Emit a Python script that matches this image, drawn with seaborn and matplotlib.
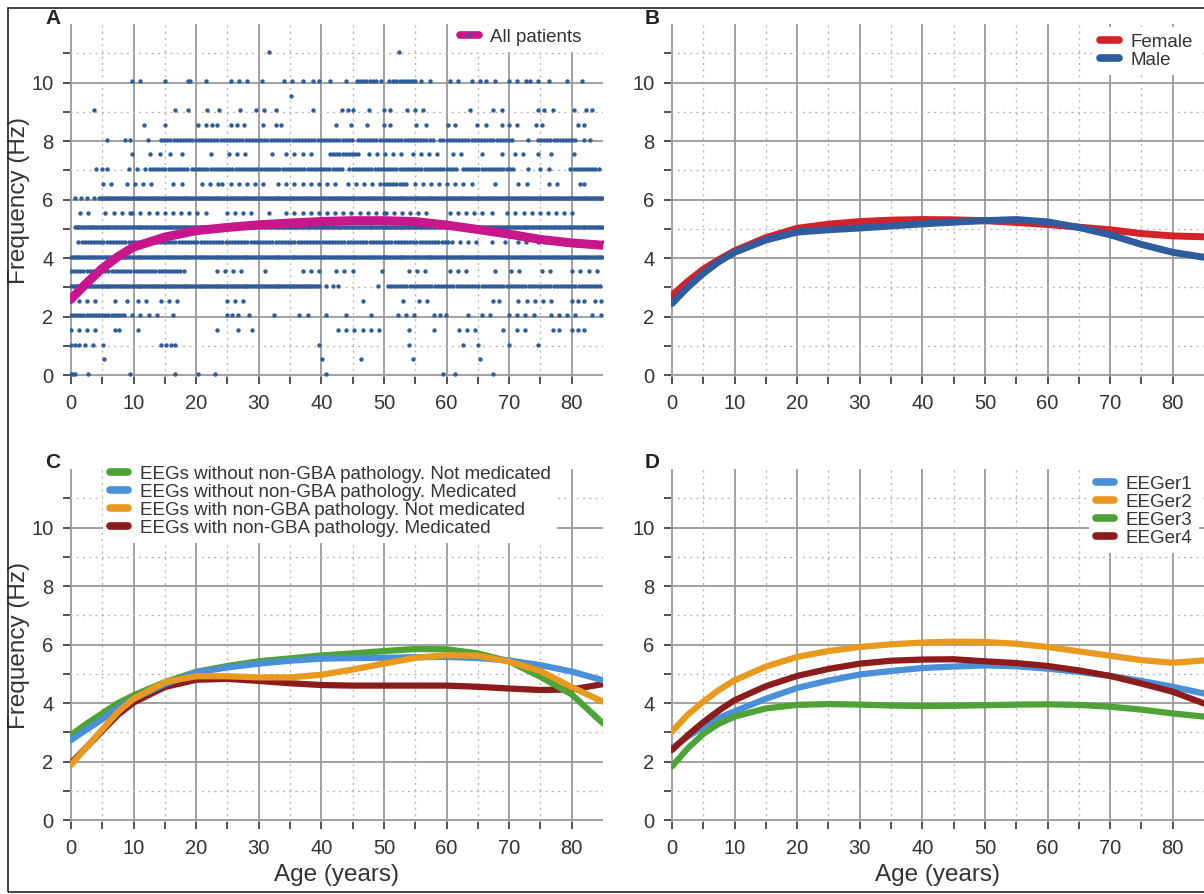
import numpy as np
import pandas as pd
import matplotlib
matplotlib.use("Agg")
import matplotlib.pyplot as plt
import seaborn as sns
from matplotlib.lines import Line2D
from matplotlib.patches import Rectangle
from matplotlib.ticker import FixedLocator

sns.set_theme(style="white")
plt.rcParams["font.family"] = ["Liberation Sans", "DejaVu Sans"]

# ---------------- data ----------------
# Panel A scatter: frequency levels and the ages at which points are seen
# "a-b" = densely packed run, "a:b" = closely dotted run, "a~b" = loosely dotted run,
# single numbers = single points
scatter_levels = [11.05, 10.05, 9.55, 9.05, 8.55, 8.05, 7.55, 7.05, 6.55, 6.05, 5.55,
                  5.05, 4.55, 4.05, 3.55, 3.05, 2.55, 2.05, 1.55, 1.05, 0.55, 0.05]
scatter_ages = [
    "31.6 52.4",
    "9.8~11.7 15 18.7 19 21.5 25.5~28.2 30.6 34~35.3 37 38.7 39.6 41.4 43.9 45.7:49 49.5~51 51.5:55 56~58 60.5~62.3 64 65.4 66.3 67.8 70~71.5 72.7 73.4 74.6 76.4 79.2 81.6",
    "35.1",
    "3.7 16.6 18.7 21.8 23.6 27 29.5~31.6 32.8~34 38.7 43.3 44.2 45.1 47.6 50 51 53.7~56.8 63.8 67.5~69.7 74.6 75.5 77 80.4 82.3 83.2",
    "11.7 15 20.3 21.5 22.5 23.3 25.5 26.5 27.6 30.7 32.8 33.5 42.4 44.8 47.3 50 51 55.2 56.8 60.2 61.4 64.8 66.3 68.8 70 71.2 74.3 75.2 81 82",
    "5.8 8.6 9.5 12.3 14.4:45 45.8:58 59:70.9 73 74.6:80.7 82 83",
    "9.8 12.6 14.2 15.8 17.8 22.4 25.2~28.5 32.2 34.4~38.7 41.4:46 47.6~53.1 54.6~59.2 61~63.2 65.7 68.8 70.9~73.4 74.6 76.7 80.4",
    "4 5 5.8 9.2~12 12.6:18.7 19.3:43.3 44.5:61.7 62.6:70.9 73 74.9 76.4 79.8:84.7",
    "5.2 6.4 8.9~13.2 16.3 17.8 20.9~23.6 24.2~31 33.1~42.7 44.2~49.4 50:53.7 54.9~64.8 67.8 71.5~74 76.4~78.6 81.3 82",
    "0.6 1.6 2.5 3.7 4.5-85",
    "1.5~3.7 5.5~9.5 9.8~21.8 24.9~29.2 31.6 34.4~50 50.3~56.8 60.5~66 67.2 69.7~80.1",
    "0.6-85",
    "1.2:60.2 60.8~64.8 67.2 69.4 71.5 72.7 74.6~85",
    "0-85",
    "0:18.1 23.3~27.6 31 37.1~40.8 42.4~45.1 49.7 54~57.7 60.5~63.5 67.8 70.3~72.7 75.2~77 80.1~85",
    "0-39.6 40.8 41.8 42.7 49.1 50.6:85",
    "0~4.9 7 8.9 10.7~12.6 14.4~17.2 24.9~27.9 46.7 53.1 55.6~58 67.5 68.4 71.5~77.7 80.1 81 82 83.8 84.7",
    "0:8.9 9.8~13.8 16.3 24.9 25.8 26.7 28.5 32.5 36.5~39 40.8 43.9 47.9 52.2~55.9 58 59 59.9 63.5 65.7~67.8 70~74.6 76.7~80.7 83.2 84.7",
    "0~4 7 7.7 10.7 23.3 26.7 28.9 42.7~49.4 54 58 62~64.8 69 71.2~73.7 77 78 80.1 81 82",
    "0 0.6 1.3 2.3 3.5 5.2 14.4 15.2 16 16.6 39.6 54 62.6 65.1 70 74.6",
    "5.3 40.1 46.3 54.6 65.4",
    "0 0.3 0.6 2.8 9.4 16.6 20.3 23 40.8 59.5 61.4 67.5",
]

ages = [0, 2.5, 5, 7.5, 10, 15, 20, 25, 30, 35, 40, 45, 50, 55, 60, 65, 70, 75, 80, 85]

all_patients = [2.6, 3.15, 3.65, 4.05, 4.38, 4.72, 4.94, 5.05, 5.14, 5.2, 5.25, 5.28, 5.28, 5.25, 5.13, 4.98, 4.82, 4.64, 4.52, 4.44]

female = [2.73, 3.2, 3.62, 3.95, 4.25, 4.7, 5.02, 5.16, 5.25, 5.3, 5.32, 5.31, 5.28, 5.22, 5.15, 5.06, 4.97, 4.84, 4.76, 4.73]
male = [2.45, 3.0, 3.48, 3.88, 4.2, 4.62, 4.89, 4.97, 5.03, 5.1, 5.17, 5.23, 5.28, 5.32, 5.24, 5.05, 4.8, 4.47, 4.2, 4.03]

c_labels = ["EEGs without non-GBA pathology. Not medicated",
            "EEGs without non-GBA pathology. Medicated",
            "EEGs with non-GBA pathology. Not medicated",
            "EEGs with non-GBA pathology. Medicated"]
c_no_path_not_med = [2.91, 3.3, 3.65, 4.0, 4.27, 4.72, 5.07, 5.27, 5.43, 5.53, 5.63, 5.7, 5.78, 5.85, 5.84, 5.7, 5.43, 4.9, 4.3, 3.31]
c_no_path_med = [2.74, 3.1, 3.45, 3.85, 4.15, 4.65, 5.05, 5.22, 5.35, 5.45, 5.52, 5.54, 5.55, 5.57, 5.58, 5.54, 5.46, 5.3, 5.08, 4.78]
c_path_not_med = [1.89, 2.5, 3.1, 3.7, 4.15, 4.72, 4.92, 4.92, 4.88, 4.88, 4.97, 5.15, 5.35, 5.55, 5.64, 5.62, 5.42, 5.1, 4.55, 4.05]
c_path_med = [1.95, 2.5, 3.05, 3.6, 4.02, 4.55, 4.8, 4.83, 4.76, 4.68, 4.62, 4.6, 4.6, 4.6, 4.6, 4.56, 4.5, 4.45, 4.47, 4.65]

d_labels = ["EEGer1", "EEGer2", "EEGer3", "EEGer4"]
eeger1 = [2.46, 2.85, 3.2, 3.5, 3.72, 4.15, 4.52, 4.77, 4.98, 5.1, 5.2, 5.25, 5.29, 5.26, 5.18, 5.07, 4.93, 4.76, 4.56, 4.33]
eeger2 = [3.03, 3.6, 4.05, 4.45, 4.78, 5.25, 5.58, 5.78, 5.92, 6.01, 6.07, 6.1, 6.09, 6.03, 5.92, 5.77, 5.62, 5.47, 5.38, 5.46]
eeger3 = [1.84, 2.45, 2.95, 3.3, 3.54, 3.82, 3.94, 3.97, 3.95, 3.92, 3.9, 3.91, 3.93, 3.95, 3.96, 3.94, 3.88, 3.78, 3.65, 3.54]
eeger4 = [2.4, 2.9, 3.35, 3.75, 4.1, 4.58, 4.93, 5.17, 5.35, 5.45, 5.49, 5.5, 5.43, 5.37, 5.27, 5.12, 4.93, 4.67, 4.39, 3.99]

x_major = [0, 10, 20, 30, 40, 50, 60, 70, 80]
x_minor = [5, 15, 25, 35, 45, 55, 65, 75]
y_major = [0, 2, 4, 6, 8, 10]
y_minor = [1, 3, 5, 7, 9, 11]

# ---------------- colours ----------------
C_SCAT = "#2f5c9a"
C_MAG = "#c8168c"
C_FEM = "#d2232a"
C_MALE = "#2e5c9e"
C_GREEN = "#4da335"
C_LBLUE = "#4a90d9"
C_ORANGE = "#e8991f"
C_DRED = "#8c1b1b"


def decode(spec):
    out = []
    for tok in spec.split():
        for sep, step in (("-", 0.3), (":", 0.5), ("~", 1.3)):
            if sep in tok:
                a, b = map(float, tok.split(sep))
                out.extend(np.arange(a, b + 1e-9, step))
                break
        else:
            out.append(float(tok))
    return out


rows = []
for lev, spec in zip(scatter_levels, scatter_ages):
    for a in decode(spec):
        rows.append((a, lev))
scat = pd.DataFrame(rows, columns=["age", "freq"])

W, H = 1204, 894
fig = plt.figure(figsize=(W / 100, H / 100), dpi=100)


def fx(px):
    return px / W


def fy(py):
    return 1 - py / H


axw = 533 / W
axh = 353 / H
axA = fig.add_axes([fx(70), fy(377), axw, axh])
axB = fig.add_axes([fx(671), fy(377), axw, axh])
axC = fig.add_axes([fx(70), fy(822), axw, axh])
axD = fig.add_axes([fx(671), fy(822), axw, axh])


def style(ax):
    ax.set_xlim(-0.15, 85)
    ax.set_ylim(-0.06, 12)
    ax.xaxis.set_major_locator(FixedLocator(x_major))
    ax.xaxis.set_minor_locator(FixedLocator(x_minor))
    ax.yaxis.set_major_locator(FixedLocator(y_major))
    ax.yaxis.set_minor_locator(FixedLocator(y_minor))
    ax.set_axisbelow(True)
    ax.grid(which="major", color="#9a9a9a", lw=1.3, ls="-")
    ax.grid(which="minor", color="#b8b8b8", lw=1.0, ls=(0, (1.5, 3)))
    for s in ax.spines.values():
        s.set_visible(False)
    ax.tick_params(which="both", direction="out", length=5, width=1.3,
                   color="#444444", pad=7, labelsize=14.5, labelcolor="#333333",
                   left=True, bottom=True)
    ax.set_xlabel("")
    ax.set_ylabel("")


# Panel A
sns.scatterplot(data=scat, x="age", y="freq", ax=axA, s=10, color=C_SCAT,
                edgecolor=None, linewidth=0, zorder=2)
sns.lineplot(x=ages, y=all_patients, ax=axA, color=C_MAG, lw=6.5, zorder=3)
style(axA)
hA = Line2D([], [], color=C_MAG, lw=5, marker="o", markersize=2.5,
            markerfacecolor=C_SCAT, markeredgecolor=C_SCAT)

# Panel B
sns.lineplot(x=ages, y=female, ax=axB, color=C_FEM, lw=5, label="Female")
sns.lineplot(x=ages, y=male, ax=axB, color=C_MALE, lw=5, label="Male")
style(axB)

# Panel C (dark red curve drawn lowest)
for vals, col, lab, z in zip([c_no_path_not_med, c_no_path_med, c_path_not_med, c_path_med],
                             [C_GREEN, C_LBLUE, C_ORANGE, C_DRED], c_labels,
                             [2.2, 2.3, 2.4, 2.1]):
    sns.lineplot(x=ages, y=vals, ax=axC, color=col, lw=4.5, label=lab, zorder=z)
style(axC)

# Panel D
for vals, col, lab in zip([eeger1, eeger2, eeger3, eeger4],
                          [C_LBLUE, C_ORANGE, C_GREEN, C_DRED], d_labels):
    sns.lineplot(x=ages, y=vals, ax=axD, color=col, lw=4.5, label=lab)
style(axD)

leg_kw = dict(fontsize=13.5, frameon=True, facecolor="white", edgecolor="none",
              framealpha=1, fancybox=False, borderpad=0.35, borderaxespad=0,
              handlelength=1.0, handletextpad=0.6, labelspacing=0.05,
              bbox_transform=fig.transFigure)

legA = axA.legend(handles=[hA], labels=["All patients"], loc="upper right",
                  bbox_to_anchor=(fx(588), fy(22)), **leg_kw)
legB = axB.legend(loc="upper right", bbox_to_anchor=(fx(1199), fy(27)), **leg_kw)
legC = axC.legend(loc="upper left", bbox_to_anchor=(fx(103), fy(459)), **leg_kw)
legD = axD.legend(loc="upper right", bbox_to_anchor=(fx(1199), fy(469)), **leg_kw)
for lg in (legA, legB, legC, legD):
    lg.set_zorder(5)
    for t in lg.get_texts():
        t.set_color("#333333")
    for h in lg.legend_handles:
        if hasattr(h, "set_linewidth"):
            h.set_linewidth(5.5)

# axis labels
for ax in (axA, axC):
    ax.set_ylabel("Frequency (Hz)", fontsize=17.5, color="#333333")
    ax.yaxis.set_label_coords(-0.075, 0.5)
for ax in (axC, axD):
    ax.set_xlabel("Age (years)", fontsize=17.5, color="#333333")
    ax.xaxis.set_label_coords(0.5, -0.119)

# panel letters
for lab, px, py in [("A", 45, 18), ("B", 645, 18), ("C", 45, 462), ("D", 645, 462)]:
    fig.text(fx(px), fy(py), lab, fontsize=15, fontweight="bold", ha="left",
             va="center", color="#222222")

# figure frame
fig.patches.append(Rectangle((fx(8), fy(892)), 1.0, (892 - 8) / H,
                             transform=fig.transFigure, fill=False,
                             edgecolor="#222222", lw=1.2, zorder=10))

fig.savefig("out.png", dpi=100)
